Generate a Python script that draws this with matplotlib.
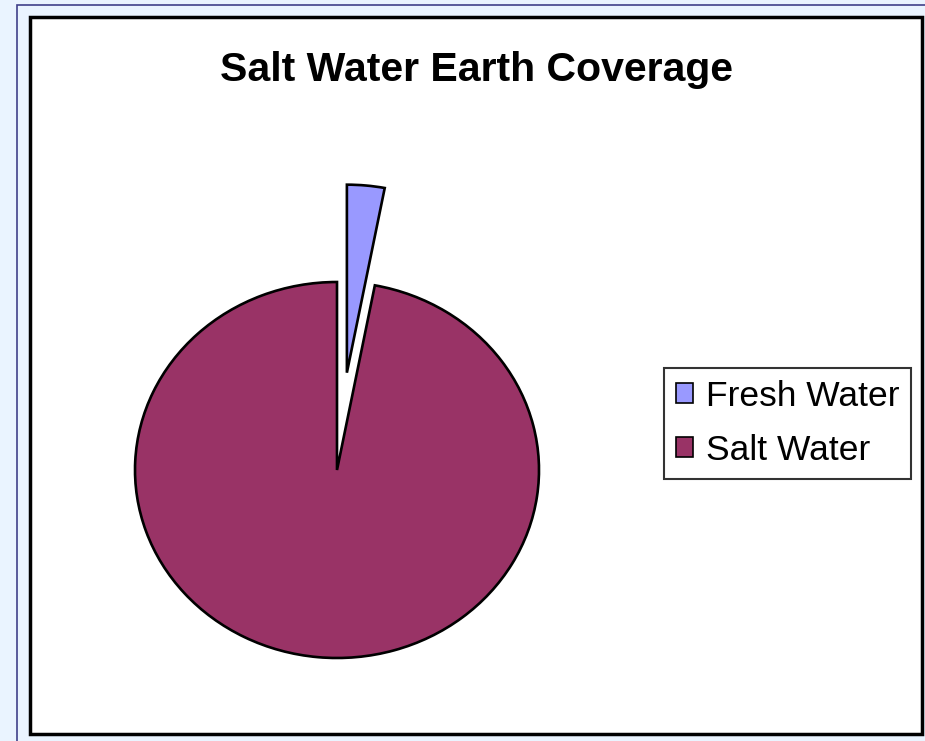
import matplotlib.pyplot as plt
from matplotlib.patches import Rectangle, Patch

labels = ['Fresh Water', 'Salt Water']
values = [3, 97]
colors = ['#9999FF', '#993366']
explode = [0.52, 0]

W, H = 925, 741
fig = plt.figure(figsize=(W / 100, H / 100), dpi=100)
fig.patch.set_facecolor('#EAF4FF')
plt.rcParams['font.family'] = ['Liberation Sans', 'DejaVu Sans']

# outer thin blue frame and white chart area
fig.patches.append(Rectangle((17 / W, -0.1), 1.2, (1 - 5 / H) + 0.1, transform=fig.transFigure,
                             facecolor='none', edgecolor='#40408A', linewidth=1.2, zorder=-2))
fig.patches.append(Rectangle((30 / W, 1 - 734 / H), (922 - 30) / W, (734 - 17) / H,
                             transform=fig.transFigure, facecolor='white',
                             edgecolor='black', linewidth=2.5, zorder=-1))

fig.text(477 / W, 1 - 70 / H, 'Salt Water Earth Coverage', ha='center', va='center',
         fontsize=29.5, fontweight='bold')

cx, cy, rx, ry = 337, 470, 202, 188
ax = fig.add_axes([(cx - rx) / W, 1 - (cy + ry) / H, 2 * rx / W, 2 * ry / H])
ax.set_zorder(2)
wedges, _ = ax.pie(values, colors=colors, explode=explode, startangle=90,
                   counterclock=False,
                   wedgeprops=dict(edgecolor='black', linewidth=1.9))
for w in wedges:
    w.set_clip_on(False)
ax.set_aspect('auto')
ax.set_xlim(-1, 1)
ax.set_ylim(-1, 1)
ax.axis('off')

handles = [Patch(facecolor=c, edgecolor='black', linewidth=1.2) for c in colors]
leg = fig.legend(handles, labels, loc='upper left', bbox_to_anchor=(664 / W, 1 - 368 / H),
                 fontsize=25.5, frameon=True, fancybox=False, handlelength=0.5,
                 handleheight=0.5, handletextpad=0.35, borderpad=0.33, labelspacing=0.6,
                 borderaxespad=0)
leg.get_frame().set_edgecolor('black')
leg.get_frame().set_linewidth(1.5)
leg.set_zorder(3)

fig.savefig('out.png', dpi=100, facecolor=fig.get_facecolor())
